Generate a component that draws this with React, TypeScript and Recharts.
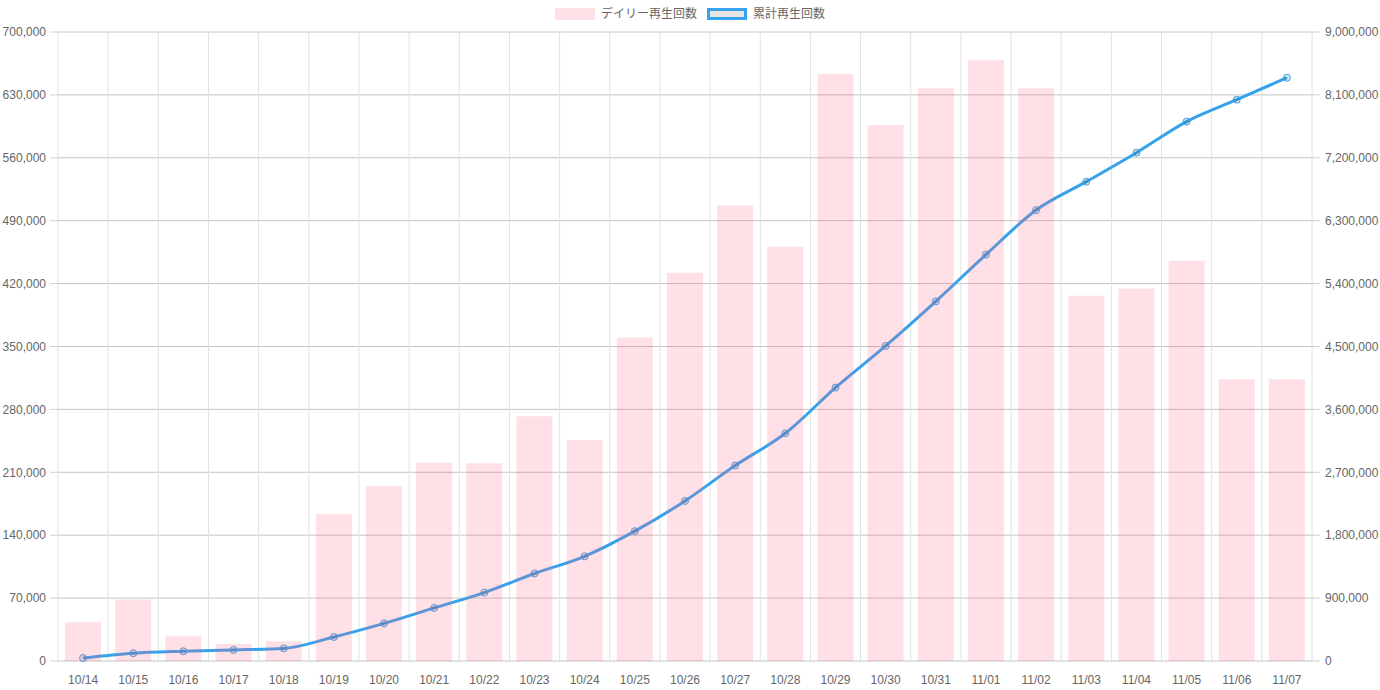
import React from 'react';
import {
  ComposedChart,
  Bar,
  Line,
  XAxis,
  YAxis,
  CartesianGrid,
  Legend,
} from 'recharts';

const days = [
  '10/14', '10/15', '10/16', '10/17', '10/18', '10/19', '10/20', '10/21', '10/22',
  '10/23', '10/24', '10/25', '10/26', '10/27', '10/28', '10/29', '10/30', '10/31',
  '11/01', '11/02', '11/03', '11/04', '11/05', '11/06', '11/07',
];

const dailyPlays = [
  43000, 68500, 28000, 19000, 22000, 163500, 194500, 221000, 220000, 272500,
  246000, 360000, 432000, 507000, 461000, 653500, 596500, 637500, 669000, 637500,
  406500, 414500, 445500, 313500, 313500,
];

const totalPlays = [
  43000, 111500, 139500, 158500, 180500, 344000, 538500, 759500, 979500, 1252000,
  1498000, 1858000, 2290000, 2797000, 3258000, 3911500, 4508000, 5145500, 5814500,
  6452000, 6858500, 7273000, 7718500, 8032000, 8345500,
];

const leftTicks = [0, 70000, 140000, 210000, 280000, 350000, 420000, 490000, 560000, 630000, 700000];
const rightTicks = [0, 900000, 1800000, 2700000, 3600000, 4500000, 5400000, 6300000, 7200000, 8100000, 9000000];
const slotTicks = Array.from({ length: days.length + 1 }, (_, i) => i);

const BLUE = '#36A2EB';
const PINK = 'rgba(255, 99, 132, 0.2)';
const FONT = '"Liberation Sans", Arial, "Noto Sans CJK JP", sans-serif';
const TEXT = '#666';

const data = days.map((day, i) => ({
  day,
  daily: dailyPlays[i],
  total: totalPlays[i],
}));

const fmt = (v: number) => v.toLocaleString('en-US');

function ChartLegend() {
  const box = { width: 40, height: 12, boxSizing: 'border-box' as const, marginRight: 6 };
  return (
    <div
      style={{
        height: 24,
        display: 'flex',
        justifyContent: 'center',
        alignItems: 'flex-start',
        fontFamily: FONT,
        fontSize: 12,
        color: TEXT,
        lineHeight: '12px',
      }}
    >
      <div style={{ display: 'flex', alignItems: 'center', marginRight: 10 }}>
        <div style={{ ...box, background: PINK }} />
        <span>デイリー再生回数</span>
      </div>
      <div style={{ display: 'flex', alignItems: 'center' }}>
        <div style={{ ...box, background: 'rgba(0,0,0,0.1)', border: `3px solid ${BLUE}` }} />
        <span>累計再生回数</span>
      </div>
    </div>
  );
}

export default function App() {
  return (
    <div style={{ width: 1380, height: 690 }}>
      <style>{'body{margin:0}'}</style>
      <ComposedChart
        width={1380}
        height={690}
        data={data}
        margin={{ top: 8, right: 0, bottom: 0, left: 0 }}
        barCategoryGap="14%"
      >
        <Legend verticalAlign="top" content={<ChartLegend />} />
        <XAxis
          xAxisId="grid"
          type="number"
          dataKey={() => 0}
          domain={[0, days.length]}
          ticks={slotTicks}
          height={0}
          tickSize={8}
          tick={{ fontSize: 0 }}
          tickFormatter={() => ''}
          axisLine={{ stroke: '#bdbdbd' }}
          tickLine={{ stroke: '#e0e0e0' }}
          allowDataOverflow
        />
        <XAxis
          xAxisId="cat"
          dataKey="day"
          height={29}
          axisLine={false}
          tickLine={false}
          tickMargin={8}
          interval={0}
          tick={{ fill: TEXT, fontSize: 12, fontFamily: FONT }}
        />
        <YAxis
          yAxisId="left"
          width={58}
          domain={[0, 700000]}
          ticks={leftTicks}
          tickFormatter={fmt}
          tickSize={8}
          tickMargin={4}
          axisLine={false}
          tickLine={{ stroke: '#d0d0d0' }}
          tick={{ fill: TEXT, fontSize: 12, fontFamily: FONT }}
          interval={0}
        />
        <YAxis
          yAxisId="right"
          orientation="right"
          width={68}
          domain={[0, 9000000]}
          ticks={rightTicks}
          tickFormatter={fmt}
          tickSize={8}
          tickMargin={5}
          axisLine={false}
          tickLine={{ stroke: '#d0d0d0' }}
          tick={{ fill: TEXT, fontSize: 12, fontFamily: FONT }}
          interval={0}
        />
        <CartesianGrid xAxisId="grid" yAxisId="left" vertical={false} stroke="#c4c4c4" />
        <CartesianGrid xAxisId="grid" yAxisId="left" horizontal={false} stroke="#e2e2e2" />
        <Line
          xAxisId="cat"
          yAxisId="right"
          type="monotone"
          dataKey="total"
          name="累計再生回数"
          stroke={BLUE}
          strokeWidth={3}
          dot={{ r: 3.5, stroke: BLUE, strokeWidth: 1, fill: 'rgba(0,0,0,0.1)' }}
          isAnimationActive={false}
          zIndex={200}
        />
        <Bar
          xAxisId="cat"
          yAxisId="left"
          dataKey="daily"
          name="デイリー再生回数"
          fill={PINK}
          isAnimationActive={false}
          zIndex={900}
        />
      </ComposedChart>
    </div>
  );
}
